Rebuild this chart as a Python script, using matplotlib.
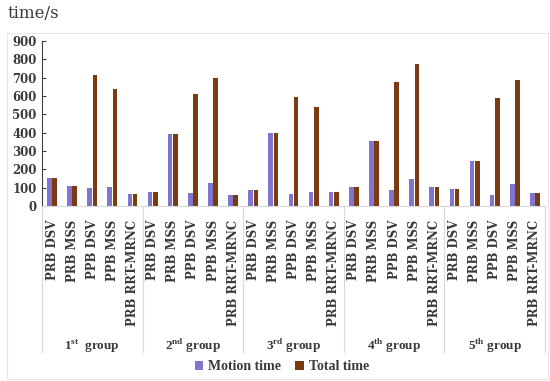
import matplotlib.pyplot as plt
import numpy as np
from matplotlib.lines import Line2D
from matplotlib.patches import Rectangle

plt.rcParams['font.family'] = 'DejaVu Serif'
plt.rcParams['font.weight'] = 'bold'
plt.rcParams['mathtext.fontset'] = 'custom'
plt.rcParams['mathtext.rm'] = 'Liberation Serif:bold'
plt.rcParams['mathtext.bf'] = 'Liberation Serif:bold'

### Data
methods = ["PRB DSV", "PRB MSS", "PPB DSV", "PPB MSS", "PRB RRT-MRNC"]
groups = [r"1$^{\rm st}$  group", r"2$^{\rm nd}$ group", r"3$^{\rm rd}$ group",
          r"4$^{\rm th}$ group", r"5$^{\rm th}$ group"]
motion_time = [155, 107, 100, 102, 64,
               75, 393, 71, 125, 62,
               86, 400, 65, 76, 76,
               102, 355, 86, 145, 104,
               95, 244, 58, 118, 73]
total_time = [155, 110, 715, 640, 65,
              75, 393, 609, 700, 62,
              86, 400, 597, 540, 76,
              102, 355, 675, 775, 104,
              95, 244, 587, 687, 73]

c_motion = "#8275CE"
c_total = "#7B3A10"
c_text = "#3A3A3A"

### Plot
fig = plt.figure(figsize=(5.5, 3.81), dpi=100)
ax = fig.add_axes([42/550, 1-206/381, 503/550, 165/381])

x = np.arange(len(motion_time))
w = 0.23
ax.bar(x - 0.13, motion_time, w, color=c_motion, label="Motion time")
ax.bar(x + 0.13, total_time, w, color=c_total, label="Total time")

ax.set_xlim(-0.5, len(x) - 0.5)
ax.set_ylim(0, 900)
ax.set_yticks(range(0, 901, 100))
ax.tick_params(axis='y', labelsize=8.5, length=3, direction='in',
               color='#404040', labelcolor=c_text, pad=4)
ax.set_xticks(x)
ax.set_xticklabels(methods * len(groups), rotation=90, fontsize=8.5, va='top',
                   color=c_text)
ax.tick_params(axis='x', length=0, pad=10)

for s in ["top", "right"]:
    ax.spines[s].set_visible(False)
ax.spines["left"].set_color('#404040')
ax.spines["left"].set_linewidth(0.8)
ax.spines["bottom"].set_color('#D9D9D9')

# group separators and labels
trans = ax.get_xaxis_transform()
for b in np.arange(-0.5, len(x), 5):
    ax.add_line(Line2D([b, b], [0, -0.885], transform=trans, color='#D9D9D9',
                       lw=0.8, clip_on=False))
for i, g in enumerate(groups):
    ax.text(i * 5 + 2, -0.847, g, transform=trans, ha='center', va='center',
            fontsize=9.5, family='Liberation Serif', color=c_text)

# chart border
fig.patches.append(Rectangle((7/550, 0.005), 541/550, 1-33/381-0.005,
                             transform=fig.transFigure, fill=False,
                             edgecolor='#E6E6E6', lw=0.8))

fig.text(8/550, 1-14/381, "time/s", fontsize=12, fontweight='normal',
         va='center', ha='left', color=c_text)

fig.legend(loc='center', bbox_to_anchor=(282/550, 1-367/381), ncol=2,
           frameon=False, handlelength=0.6, handleheight=0.6,
           columnspacing=1.0, handletextpad=0.4,
           prop={'family': 'Liberation Serif', 'weight': 'bold', 'size': 10},
           labelcolor=c_text)

fig.savefig("out.png", dpi=100)
